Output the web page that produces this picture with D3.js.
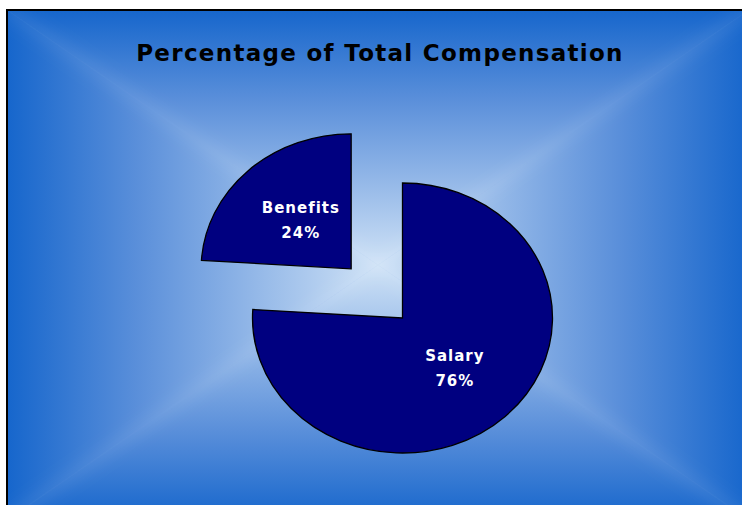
<!DOCTYPE html>
<html>
<head>
<meta charset="utf-8">
<script src="https://cdn.jsdelivr.net/npm/d3@7"></script>
<style>
  html, body { margin: 0; padding: 0; background: #ffffff; }
  svg { display: block; }
</style>
</head>
<body>
<svg id="chart" width="742" height="505"></svg>
<script>
// Chart content
const chartTitle = "Percentage of Total Compensation";
const categories = ["Salary", "Benefits"];
const percentages = [76, 24];
const explodeFractions = [0, 0.5];

const svg = d3.select("#chart");
const defs = svg.append("defs");

// Chart area (runs past the right and bottom edges of the window)
const area = { x0: 7, y0: 10, x1: 749, y1: 520 };
const cx = (area.x0 + area.x1) / 2, cy = (area.y0 + area.y1) / 2;
const edgeColor = "#1666cc", midColor = "#5a8fda", centerColor = "#cfe2f6";

// Rectangular "from centre" gradient built from four triangles
const bgClip = defs.append("clipPath").attr("id", "bgClip");
bgClip.append("rect")
  .attr("x", area.x0).attr("y", area.y0)
  .attr("width", area.x1 - area.x0).attr("height", area.y1 - area.y0);

const bg = svg.append("g").attr("clip-path", "url(#bgClip)");
bg.append("rect")
  .attr("x", area.x0).attr("y", area.y0)
  .attr("width", area.x1 - area.x0).attr("height", area.y1 - area.y0)
  .attr("fill", "#6f9de0");

const tris = [
  { id: "gTop",    pts: [[area.x0, area.y0], [area.x1, area.y0], [cx, cy]], from: [cx, area.y0] },
  { id: "gBottom", pts: [[area.x0, area.y1], [area.x1, area.y1], [cx, cy]], from: [cx, area.y1] },
  { id: "gLeft",   pts: [[area.x0, area.y0], [area.x0, area.y1], [cx, cy]], from: [area.x0, cy] },
  { id: "gRight",  pts: [[area.x1, area.y0], [area.x1, area.y1], [cx, cy]], from: [area.x1, cy] }
];
tris.forEach(t => {
  const g = defs.append("linearGradient")
    .attr("id", t.id)
    .attr("gradientUnits", "userSpaceOnUse")
    .attr("x1", t.from[0]).attr("y1", t.from[1])
    .attr("x2", cx).attr("y2", cy);
  g.append("stop").attr("offset", "0").attr("stop-color", edgeColor);
  g.append("stop").attr("offset", "0.35").attr("stop-color", midColor);
  g.append("stop").attr("offset", "1").attr("stop-color", centerColor);
  bg.append("polygon")
    .attr("points", t.pts.map(p => p.join(",")).join(" "))
    .attr("fill", `url(#${t.id})`)
    .attr("stroke", `url(#${t.id})`)
    .attr("stroke-width", 0.6);
});

// Soft light bands along the gradient's diagonals
defs.append("filter").attr("id", "soft")
  .attr("x", "-10%").attr("y", "-10%").attr("width", "120%").attr("height", "120%")
  .append("feGaussianBlur").attr("stdDeviation", 7);
const corners = [[area.x0, area.y0], [area.x1, area.y0], [area.x0, area.y1], [area.x1, area.y1]];
bg.append("g").attr("filter", "url(#soft)")
  .selectAll("line")
  .data(corners)
  .enter().append("line")
  .attr("x1", d => d[0]).attr("y1", d => d[1])
  .attr("x2", cx).attr("y2", cy)
  .attr("stroke", "#ffffff")
  .attr("stroke-opacity", 0.06)
  .attr("stroke-width", 16);

// Chart border
svg.append("rect")
  .attr("x", area.x0).attr("y", area.y0)
  .attr("width", area.x1 - area.x0 + 20).attr("height", area.y1 - area.y0 + 20)
  .attr("fill", "none").attr("stroke", "#000").attr("stroke-width", 2);

const fontFamily = "'DejaVu Sans', Verdana, sans-serif";

// Title
svg.append("text")
  .attr("x", 380).attr("y", 61)
  .attr("text-anchor", "middle")
  .attr("font-family", fontFamily)
  .attr("font-weight", "bold")
  .attr("font-size", 23)
  .attr("letter-spacing", 1.3)
  .attr("fill", "#000")
  .text(chartTitle);

// Pie (slightly elliptical, first slice starts at 12 o'clock)
const pieCx = 402.5, pieCy = 318;
const rx = 150, ry = 135;

const data = categories.map((c, i) => ({ name: c, value: percentages[i], explode: explodeFractions[i] }));
const pie = d3.pie().value(d => d.value).sort(null).startAngle(0).endAngle(2 * Math.PI);
const arcs = pie(data);
const arc = d3.arc().innerRadius(0).outerRadius(ry);

const pieG = svg.append("g").attr("transform", `translate(${pieCx},${pieCy})`);

const slice = pieG.selectAll("g.slice")
  .data(arcs)
  .enter().append("g")
  .attr("class", "slice")
  .attr("transform", d => {
    const mid = (d.startAngle + d.endAngle) / 2;
    const k = d.data.explode;
    return `translate(${k * rx * Math.sin(mid)},${-k * ry * Math.cos(mid)})`;
  });

slice.append("path")
  .attr("d", arc)
  .attr("transform", `scale(${rx / ry},1)`)
  .attr("fill", "#000080")
  .attr("stroke", "#000")
  .attr("stroke-width", 1.3)
  .attr("vector-effect", "non-scaling-stroke");

// Slice labels: name and percentage at the centroid
const labels = slice.append("text")
  .attr("text-anchor", "middle")
  .attr("font-family", fontFamily)
  .attr("font-weight", "bold")
  .attr("font-size", 15)
  .attr("letter-spacing", 1)
  .attr("fill", "#ffffff")
  .attr("transform", d => {
    const c = arc.centroid(d);
    return `translate(${c[0] * rx / ry + 1},${c[1]})`;
  });
labels.append("tspan").attr("x", 0).attr("y", -6.5).text(d => d.data.name);
labels.append("tspan").attr("x", 0).attr("y", 18.5).text(d => d3.format(".0f")(d.data.value) + "%");
</script>
</body>
</html>
